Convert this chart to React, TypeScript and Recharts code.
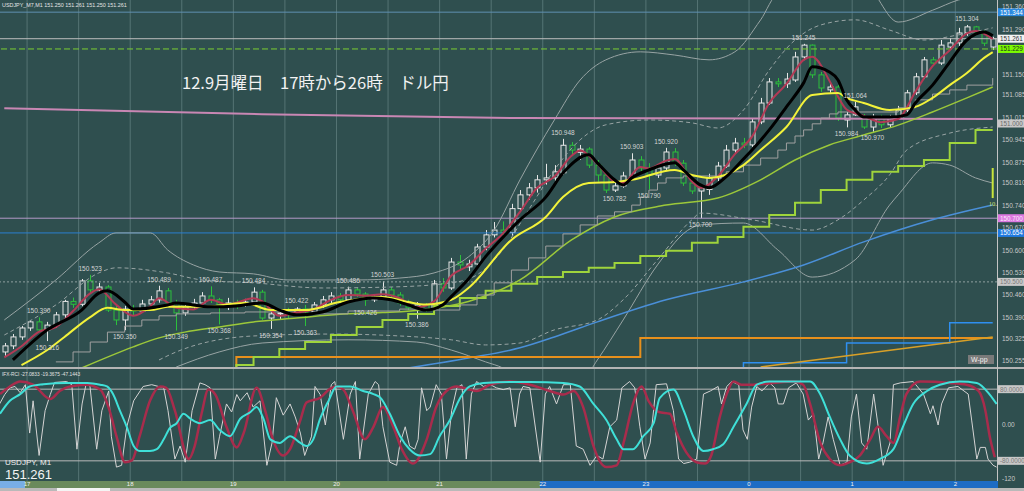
import React from 'react';
import { ComposedChart, Bar, Line, XAxis, YAxis, ReferenceLine, ReferenceDot } from 'recharts';

const BG = '#2f4f4f';
const GRID = '#557474';
const AXIS_TEXT = '#c8c8c8';
const BULL = '#e6e6e6';
const BEAR = '#2cc03c';
const FONT = '"Liberation Sans", Arial, sans-serif';

// 5 minute bars, 16:45 .. 02:20
const candleOpen = [
  150.282, 150.301, 150.329, 150.357, 150.376, 150.351, 150.366, 150.398, 150.440, 150.431,
  150.504, 150.476, 150.485, 150.413, 150.382, 150.416, 150.410, 150.432, 150.445, 150.473,
  150.435, 150.404, 150.423, 150.435, 150.457, 150.445, 150.429, 150.435, 150.429, 150.438,
  150.469, 150.388, 150.401, 150.404, 150.401, 150.416, 150.407, 150.429, 150.445, 150.457,
  150.445, 150.476, 150.463, 150.445, 150.454, 150.476, 150.460, 150.435, 150.420, 150.429,
  150.416, 150.495, 150.482, 150.563, 150.548, 150.557, 150.610, 150.648, 150.663, 150.655,
  150.730, 150.773, 150.795, 150.820, 150.826, 150.842, 150.928, 150.906, 150.916, 150.866,
  150.835, 150.788, 150.801, 150.832, 150.882, 150.857, 150.835, 150.857, 150.907, 150.872,
  150.810, 150.785, 150.790, 150.826, 150.863, 150.913, 150.935, 150.929, 151.001, 151.060,
  151.126, 151.120, 151.132, 151.204, 151.241, 151.148, 151.101, 151.110, 151.007, 151.023,
  151.017, 150.985, 151.013, 150.992, 151.017, 151.038, 151.092, 151.142, 151.195, 151.185,
  151.235, 151.248, 151.279, 151.298, 151.282, 151.235,
];
const candleHigh = [
  150.310, 150.338, 150.363, 150.382, 150.390, 150.376, 150.407, 150.445, 150.452, 150.510,
  150.523, 150.498, 150.491, 150.428, 150.426, 150.429, 150.445, 150.457, 150.489, 150.482,
  150.445, 150.435, 150.448, 150.469, 150.487, 150.451, 150.451, 150.445, 150.448, 150.484,
  150.476, 150.413, 150.413, 150.420, 150.422, 150.429, 150.438, 150.457, 150.469, 150.466,
  150.486, 150.482, 150.469, 150.463, 150.503, 150.485, 150.469, 150.445, 150.438, 150.435,
  150.507, 150.513, 150.576, 150.585, 150.570, 150.620, 150.663, 150.688, 150.690, 150.745,
  150.788, 150.810, 150.835, 150.870, 150.866, 150.948, 150.938, 150.929, 150.922, 150.882,
  150.844, 150.810, 150.845, 150.903, 150.894, 150.872, 150.869, 150.920, 150.919, 150.882,
  150.820, 150.804, 150.839, 150.876, 150.929, 150.951, 150.951, 151.013, 151.076, 151.138,
  151.138, 151.154, 151.220, 151.245, 151.243, 151.157, 151.123, 151.116, 151.032, 151.064,
  151.026, 151.026, 151.023, 151.023, 151.051, 151.101, 151.154, 151.204, 151.204, 151.257,
  151.263, 151.295, 151.304, 151.301, 151.288, 151.267,
];
const candleLow = [
  150.270, 150.291, 150.320, 150.348, 150.345, 150.316, 150.357, 150.388, 150.420, 150.425,
  150.463, 150.466, 150.407, 150.366, 150.350, 150.395, 150.404, 150.423, 150.436, 150.426,
  150.349, 150.395, 150.413, 150.426, 150.435, 150.368, 150.413, 150.416, 150.423, 150.432,
  150.382, 150.354, 150.382, 150.388, 150.395, 150.363, 150.401, 150.420, 150.432, 150.435,
  150.438, 150.454, 150.426, 150.438, 150.445, 150.451, 150.426, 150.413, 150.386, 150.407,
  150.410, 150.470, 150.476, 150.538, 150.535, 150.550, 150.600, 150.640, 150.645, 150.645,
  150.720, 150.757, 150.780, 150.805, 150.814, 150.835, 150.898, 150.882, 150.857, 150.814,
  150.779, 150.782, 150.795, 150.826, 150.845, 150.790, 150.826, 150.850, 150.863, 150.801,
  150.776, 150.700, 150.773, 150.816, 150.857, 150.904, 150.919, 150.923, 150.994, 151.054,
  151.110, 151.107, 151.126, 151.194, 151.138, 151.095, 151.092, 151.004, 150.984, 151.020,
  150.979, 150.970, 150.982, 150.985, 151.010, 151.032, 151.085, 151.135, 151.176, 151.179,
  151.226, 151.238, 151.270, 151.272, 151.238, 151.226,
];
const candleClose = [
  150.301, 150.329, 150.357, 150.376, 150.351, 150.366, 150.398, 150.440, 150.431, 150.504,
  150.476, 150.485, 150.413, 150.382, 150.416, 150.410, 150.432, 150.445, 150.473, 150.435,
  150.404, 150.423, 150.435, 150.457, 150.445, 150.429, 150.435, 150.429, 150.438, 150.469,
  150.388, 150.401, 150.404, 150.401, 150.416, 150.407, 150.429, 150.445, 150.457, 150.445,
  150.476, 150.463, 150.445, 150.454, 150.476, 150.460, 150.435, 150.420, 150.429, 150.416,
  150.495, 150.482, 150.563, 150.554, 150.557, 150.610, 150.648, 150.663, 150.655, 150.730,
  150.773, 150.795, 150.820, 150.826, 150.845, 150.928, 150.913, 150.916, 150.866, 150.835,
  150.788, 150.801, 150.832, 150.882, 150.857, 150.835, 150.857, 150.907, 150.872, 150.810,
  150.785, 150.795, 150.826, 150.863, 150.913, 150.935, 150.929, 151.001, 151.060, 151.126,
  151.120, 151.135, 151.204, 151.241, 151.148, 151.107, 151.110, 151.013, 151.023, 151.048,
  150.985, 151.017, 150.992, 151.013, 151.038, 151.092, 151.142, 151.195, 151.185, 151.241,
  151.248, 151.279, 151.298, 151.282, 151.247, 151.261,
];

// indicator lines: [bar index, price]
const blackPts = [[1,150.257],[5,150.351],[9,150.413],[11,150.466],[12,150.473],[14,150.438],[15,150.416],[19,150.429],[20,150.435],[24,150.423],[27,150.426],[30,150.435],[32,150.413],[34,150.398],[37,150.407],[40,150.438],[43,150.451],[45,150.445],[47,150.429],[49,150.413],[51,150.429],[52,150.455],[54,150.510],[56,150.580],[58,150.640],[60,150.695],[63,150.766],[65,150.841],[68,150.898],[69,150.873],[71,150.820],[72,150.804],[73,150.826],[75,150.851],[78,150.873],[79,150.851],[81,150.804],[82,150.795],[84,150.830],[86,150.885],[87,150.913],[89,150.976],[91,151.048],[93,151.123],[94,151.173],[96,151.157],[97,151.132],[98,151.070],[99,151.038],[100,151.016],[103,151.016],[105,151.023],[106,151.060],[108,151.116],[110,151.188],[112,151.257],[114,151.282],[115,151.270]];
const yellowPts = [[2,150.241],[5,150.288],[7,150.329],[10,150.391],[12,150.420],[14,150.413],[17,150.413],[19,150.423],[23,150.423],[28,150.435],[31,150.413],[35,150.413],[39,150.438],[44,150.454],[47,150.438],[49,150.430],[52,150.445],[54,150.482],[59,150.632],[63,150.704],[65,150.766],[68,150.810],[71,150.813],[73,150.820],[78,150.851],[80,150.835],[82,150.826],[86,150.866],[88,150.913],[91,150.985],[94,151.085],[97,151.091],[98,151.076],[100,151.060],[103,151.038],[106,151.048],[108,151.076],[110,151.116],[112,151.154],[114,151.201],[115,151.219]];
const redPts = [[0,150.265],[2,150.300],[4,150.345],[6,150.360],[8,150.410],[10,150.465],[11,150.478],[13,150.430],[15,150.395],[17,150.425],[18,150.450],[20,150.420],[22,150.415],[24,150.445],[26,150.430],[29,150.450],[30,150.440],[32,150.395],[34,150.405],[36,150.415],[38,150.445],[40,150.460],[42,150.458],[44,150.462],[46,150.450],[48,150.422],[50,150.440],[52,150.520],[54,150.552],[56,150.605],[58,150.652],[60,150.720],[62,150.795],[64,150.830],[66,150.895],[67,150.912],[69,150.870],[71,150.815],[72,150.810],[74,150.860],[75,150.855],[77,150.880],[78,150.885],[80,150.815],[81,150.795],[83,150.830],[85,150.900],[87,150.955],[89,151.060],[91,151.120],[93,151.195],[94,151.205],[96,151.130],[97,151.080],[98,151.040],[100,151.020],[102,151.000],[104,151.010],[106,151.095],[108,151.175],[110,151.225],[112,151.278],[113,151.285],[115,151.260]];
const grayStepPts = [[6,150.251],[8,150.282],[10,150.313],[12,150.344],[14,150.363],[16,150.382],[18,150.395],[20,150.401],[24,150.404],[28,150.407],[34,150.401],[40,150.410],[46,150.416],[50,150.413],[53,150.429],[55,150.460],[57,150.498],[59,150.538],[61,150.576],[63,150.613],[65,150.651],[67,150.679],[69,150.707],[71,150.720],[73,150.741],[74,150.766],[75,150.788],[76,150.810],[77,150.826],[79,150.832],[84,150.845],[86,150.866],[88,150.888],[90,150.913],[91,150.935],[92,150.957],[93,150.976],[94,150.995],[95,151.013],[96,151.026],[97,151.032],[104,151.045],[106,151.070],[108,151.088],[110,151.101],[112,151.116],[115,151.138]];
const greenStairPts = [[26,150.150],[27,150.241],[29,150.266],[32,150.291],[35,150.313],[38,150.335],[41,150.360],[44,150.382],[47,150.401],[50,150.426],[53,150.451],[56,150.473],[59,150.495],[62,150.516],[65,150.532],[68,150.545],[71,150.560],[74,150.582],[77,150.598],[80,150.623],[83,150.641],[86,150.673],[89,150.710],[92,150.748],[95,150.788],[98,150.820],[101,150.845],[104,150.863],[107,150.882],[110,150.935],[113,150.976],[115,150.976]];
const lowerGreenPts = [[9,150.232],[12,150.266],[15,150.298],[18,150.326],[21,150.344],[25,150.360],[29,150.376],[34,150.388],[39,150.400],[44,150.405],[49,150.415],[54,150.440],[60,150.507],[66,150.632],[71,150.704],[77,150.741],[83,150.763],[88,150.820],[92,150.882],[96,150.929],[100,150.960],[104,150.991],[108,151.032],[112,151.076],[115,151.110]];
const bbUpperPts = [[0,150.382],[6,150.507],[11,150.623],[13,150.654],[17,150.654],[19,150.601],[22,150.554],[25,150.532],[29,150.526],[33,150.507],[41,150.507],[46,150.513],[50,150.529],[54,150.579],[57,150.663],[60,150.820],[64,151.007],[67,151.132],[70,151.195],[74,151.220],[78,151.210],[82,151.195],[85,151.220],[88,151.320],[90,151.400],[100,151.430],[104,151.313],[108,151.350],[111,151.382],[115,151.400]];
const bbUpperInPts = [[0,150.335],[6,150.429],[11,150.529],[13,150.545],[19,150.529],[23,150.507],[29,150.498],[37,150.482],[45,150.485],[52,150.498],[55,150.523],[58,150.601],[61,150.726],[64,150.851],[67,150.945],[70,150.992],[75,151.007],[80,150.998],[83,150.982],[86,151.038],[89,151.163],[92,151.257],[95,151.304],[99,151.320],[103,151.288],[107,151.257],[111,151.273],[115,151.295]];
const bbLowerInPts = [[18,150.257],[20,150.282],[29,150.332],[38,150.338],[46,150.332],[52,150.320],[56,150.304],[60,150.310],[64,150.351],[69,150.382],[72,150.445],[76,150.570],[80,150.695],[81,150.716],[87,150.695],[94,150.663],[97,150.695],[100,150.757],[103,150.835],[105,150.913],[110,150.966],[115,150.985]];
const bbLowerPts = [[20,150.235],[25,150.282],[30,150.310],[40,150.320],[48,150.313],[52,150.288],[56,150.251],[58,150.232],[62,150.150],[66,150.150],[69,150.257],[72,150.382],[76,150.554],[80,150.670],[81,150.679],[86,150.685],[90,150.601],[94,150.516],[99,150.570],[103,150.741],[104,150.773],[108,150.873],[110,150.866],[113,150.826],[115,150.810]];
const bluePts = [[47,150.232],[54,150.263],[60,150.295],[64,150.329],[69,150.376],[77,150.445],[86,150.501],[93,150.554],[100,150.626],[108,150.695],[115,150.741]];
const orangeStepPts = [[26,150.150],[27,150.266],[74,150.326],[115,150.326]];
const blueStepPts = [[85,150.150],[86,150.248],[98,150.310],[110,150.373],[115,150.373]];
const orangeSlopePts = [[88,150.235],[115,150.329]];
const pinkPts = [[0,151.044],[30,151.025],[60,151.013],[115,151.010]];

const priceTicks = [151.36, 151.29, 151.15, 151.085, 151.015, 150.945, 150.875, 150.81, 150.74, 150.67, 150.6, 150.53, 150.46, 150.39, 150.325, 150.255];

// swing high / low labels: [text, bar, price, side]
const swingLabels: [string, number, number, string][] = [
  ['150.390', 4, 150.390, 'top'], ['150.316', 5, 150.316, 'bottom'], ['150.523', 10, 150.523, 'top'],
  ['150.350', 14, 150.350, 'bottom'], ['150.489', 18, 150.489, 'top'], ['150.349', 20, 150.349, 'bottom'],
  ['150.487', 24, 150.487, 'top'], ['150.368', 25, 150.368, 'bottom'], ['150.484', 29, 150.484, 'top'],
  ['150.354', 31, 150.354, 'bottom'], ['150.422', 34, 150.422, 'top'], ['150.363', 35, 150.363, 'bottom'],
  ['150.486', 40, 150.486, 'top'], ['150.426', 42, 150.426, 'bottom'], ['150.503', 44, 150.503, 'top'],
  ['150.386', 48, 150.386, 'bottom'], ['150.948', 65, 150.948, 'top'], ['150.782', 71, 150.782, 'bottom'],
  ['150.903', 73, 150.903, 'top'], ['150.790', 75, 150.790, 'bottom'], ['150.920', 77, 150.920, 'top'],
  ['150.700', 81, 150.700, 'bottom'], ['151.245', 93, 151.245, 'top'], ['150.984', 98, 150.984, 'bottom'],
  ['151.064', 99, 151.064, 'top'], ['150.970', 101, 150.970, 'bottom'], ['151.304', 112, 151.304, 'top'],
];

// horizontal levels with their price tags on the axis
const levels = [
  { price: 151.344, text: '151.344', line: '#5f8fb0', bg: '#2a8ae0', fg: '#ffffff', dash: undefined },
  { price: 151.261, text: '151.261', line: '#bdbdbd', bg: '#f2f2f2', fg: '#303030', dash: undefined },
  { price: 151.229, text: '151.229', line: '#7ccd32', bg: '#7cfc00', fg: '#203020', dash: '6 3' },
  { price: 150.996, text: '151.000', line: 'none', bg: '#c8c8c8', fg: '#6a6a6a', dash: undefined },
  { price: 150.700, text: '150.700', line: '#b49ac8', bg: '#dc78e0', fg: '#fbe8fb', dash: undefined },
  { price: 150.654, text: '150.654', line: '#2a7fd0', bg: '#1f7ae0', fg: '#ffffff', dash: undefined },
  { price: 150.501, text: '150.500', line: '#8fa0a0', bg: '#c8c8c8', fg: '#7a7a7a', dash: '2 2' },
];
const lastBar = { idx: 115, top: 150.857, bottom: 150.763, label: '10.' };

// half-hour separators and hour labels (bar units)
const gridSlots = [3, 9, 15, 21, 27, 33, 39, 45, 51, 57, 63, 69, 75, 81, 87, 93, 99, 105, 111];
const hourSlots = [3, 15, 27, 39, 51, 63, 75, 87, 99, 111];
const hourLabels = ['17', '18', '19', '20', '21', '22', '23', '0', '1', '2'];

// RCI: [bar position, value]
const rciFast = [[-0.2,47],[0.4,68],[1.0,83],[1.6,86],[2.2,72],[2.8,90],[3.3,-18],[3.7,54],[4.4,-68],[5.1,32],[5.7,68],[6.2,95],[7.6,97],[8.2,90],[8.8,-54],[9.4,47],[9.9,95],[10.3,90],[11.1,-54],[11.7,32],[12.5,76],[12.8,-25],[13.4,-94],[14.0,-90],[14.6,-4],[15.4,54],[16.5,86],[17.5,90],[18.9,83],[19.4,32],[20.2,-76],[20.8,-47],[21.4,-83],[22.2,32],[23.1,94],[23.7,90],[24.3,83],[24.9,-76],[25.4,-25],[26.2,47],[26.8,29],[27.4,68],[27.8,54],[28.6,72],[29.3,40],[30.1,54],[30.9,-90],[31.5,-40],[32.0,61],[32.8,22],[33.6,47],[34.2,18],[34.8,-18],[35.3,-68],[36.1,-25],[36.5,86],[37.1,68],[37.7,0],[38.4,90],[38.8,97],[39.8,-32],[40.6,69],[41.2,97],[41.7,-76],[42.7,69],[43.5,97],[43.9,90],[44.4,-4],[45.2,-83],[46.0,-90],[46.4,-40],[47.0,-4],[47.5,-47],[48.1,-54],[48.5,-32],[48.9,83],[49.5,32],[49.9,40],[50.6,90],[51.2,69],[51.8,-76],[52.4,32],[53.0,83],[53.6,90],[54.1,-76],[54.7,69],[55.3,97],[56.1,86],[56.9,90],[57.6,83],[58.4,79],[59.2,83],[59.8,-4],[60.3,69],[60.7,86],[61.5,83],[62.7,-83],[63.3,69],[63.8,86],[64.6,47],[65.4,90],[66.2,90],[66.9,-47],[67.7,-54],[68.5,-90],[69.3,-68],[70.0,-76],[70.8,-4],[71.6,11],[72.2,83],[73.1,97],[73.7,83],[74.3,-4],[74.9,-76],[75.5,-40],[76.2,90],[77.4,92],[78.2,32],[78.8,-76],[79.4,-86],[80.1,-83],[80.9,-76],[81.7,69],[82.5,76],[83.4,86],[83.8,47],[84.4,86],[85.0,97],[85.8,90],[86.3,-11],[86.8,-32],[87.3,40],[87.9,86],[88.5,76],[89.4,94],[90.0,83],[90.4,47],[91.0,47],[91.6,83],[92.5,94],[93.3,69],[93.9,11],[94.5,25],[95.1,-76],[95.6,-40],[96.2,18],[96.8,-32],[97.6,-90],[98.4,-83],[98.9,18],[99.5,69],[100.1,-40],[100.7,-54],[101.5,69],[102.0,0],[102.6,-90],[103.4,-40],[103.8,90],[104.6,94],[106.1,97],[107.3,69],[108.1,25],[108.4,43],[109.0,0],[109.4,47],[110.2,83],[111.3,86],[112.5,69],[112.9,11],[113.5,-76],[113.9,-50],[114.5,-50],[114.8,-76],[115.4,-90],[115.8,-94]];
const rciMid = [[-0.15,69],[1.0,86],[2.2,97],[3.7,90],[5.7,58],[6.8,76],[8.0,86],[9.9,90],[11.5,79],[12.6,32],[13.4,-25],[14.4,-83],[15.2,-79],[16.1,-25],[17.3,54],[18.5,86],[19.2,83],[20.2,32],[21.8,-76],[22.5,-47],[23.3,25],[24.1,79],[24.9,68],[26.2,-4],[27.4,-50],[28.2,-18],[29.7,83],[30.7,32],[31.6,-32],[32.8,-68],[33.6,-54],[34.8,11],[35.5,50],[37.1,61],[38.2,80],[39.0,86],[39.8,79],[40.9,32],[42.3,-32],[43.3,-4],[44.4,40],[45.6,-4],[46.6,-54],[47.9,-86],[49.5,-32],[50.6,40],[51.8,76],[53.0,86],[54.5,79],[55.3,76],[56.9,90],[59.2,97],[61.5,90],[63.8,76],[65.4,68],[66.6,76],[67.7,40],[68.9,-47],[69.7,-83],[70.4,-94],[71.6,-90],[72.4,-40],[73.5,47],[74.5,86],[75.3,54],[76.5,29],[77.8,25],[78.6,-18],[79.7,-61],[80.9,-83],[81.9,-86],[82.6,-68],[83.6,18],[84.4,69],[85.2,97],[86.1,90],[87.5,90],[89.8,94],[92.2,97],[93.3,90],[94.1,47],[95.3,-40],[96.4,-76],[97.6,-90],[98.7,-83],[99.9,-68],[101.1,-32],[102.0,-4],[103.0,-25],[103.8,-40],[104.6,20],[105.3,69],[106.9,97],[110.4,94],[112.3,90],[113.7,76],[114.5,32],[115.0,-25],[115.6,-72]];
const rciSlow = [[-0.15,25],[1.0,54],[2.2,69],[3.3,86],[4.9,91],[7.6,94],[10.0,94],[11.5,90],[12.3,86],[13.0,69],[13.8,32],[14.6,-4],[15.4,-47],[16.1,-58],[17.3,-58],[18.1,-54],[18.9,-32],[19.6,-7],[20.4,4],[21.2,25],[22.0,14],[23.1,4],[24.3,11],[25.4,-11],[26.6,-25],[27.8,14],[29.0,29],[29.7,40],[30.5,14],[31.3,-32],[32.4,-40],[33.6,-25],[34.8,-40],[35.5,-47],[36.3,-32],[37.1,14],[38.1,55],[39.0,86],[40.6,86],[42.1,76],[43.3,69],[44.1,61],[45.2,25],[46.4,-25],[47.5,-54],[48.7,-68],[49.9,-65],[51.0,-25],[52.2,11],[53.4,61],[54.5,86],[56.1,94],[59.2,96],[61.5,96],[65.4,94],[67.3,86],[68.9,47],[70.4,11],[71.6,-32],[72.4,-54],[73.5,-54],[74.7,-25],[75.9,4],[76.6,60],[78.2,79],[79.4,32],[80.5,-25],[81.7,-58],[82.8,-54],[84.0,-43],[85.2,-4],[86.7,47],[87.9,90],[89.4,97],[92.2,97],[94.1,97],[95.3,68],[96.4,18],[97.6,-32],[98.7,-68],[100.7,-86],[102.2,-76],[103.8,-54],[104.9,-4],[106.1,47],[107.7,76],[109.2,90],[111.5,97],[113.5,94],[115.0,68],[115.8,47]];

const lineSpecs: [string, number[][], string, number, string, string | undefined][] = [
  ['bbUpper', bbUpperPts, '#98a4a4', 1, 'monotone', undefined],
  ['bbUpperIn', bbUpperInPts, '#98a4a4', 1, 'monotone', '4 3'],
  ['bbLowerIn', bbLowerInPts, '#98a4a4', 1, 'monotone', '4 3'],
  ['bbLower', bbLowerPts, '#98a4a4', 1, 'monotone', undefined],
  ['pink', pinkPts, '#c987b4', 2, 'linear', undefined],
  ['blue', bluePts, '#4a8fd8', 1.5, 'monotone', undefined],
  ['orangeStep', orangeStepPts, '#e8901c', 2, 'stepAfter', undefined],
  ['blueStep', blueStepPts, '#2f8ff0', 1.5, 'stepAfter', undefined],
  ['orangeSlope', orangeSlopePts, '#d8a028', 1.5, 'linear', undefined],
  ['greenStair', greenStairPts, '#9fd43c', 2, 'stepAfter', undefined],
  ['lowerGreen', lowerGreenPts, '#9cc83a', 1.5, 'monotone', undefined],
  ['grayStep', grayStepPts, '#a0a0a0', 1, 'stepAfter', undefined],
  ['red', redPts, '#b23a55', 2, 'monotone', undefined],
  ['yellow', yellowPts, '#f2f23a', 2, 'monotone', undefined],
  ['black', blackPts, '#000000', 3, 'monotone', undefined],
];

const rows = candleOpen.map((o, i) => {
  const r: any = { idx: i, o, h: candleHigh[i], l: candleLow[i], c: candleClose[i] };
  lineSpecs.forEach(([key, pts]) => {
    const hit = pts.find((p) => p[0] === i);
    r[key] = hit ? hit[1] : null;
  });
  return r;
});

const rciRows = (() => {
  const m = new Map<number, any>();
  const put = (list: number[][], key: string) =>
    list.forEach(([t, v]) => {
      const r = m.get(t) ?? { t };
      r[key] = v;
      m.set(t, r);
    });
  put(rciFast, 'fast');
  put(rciMid, 'mid');
  put(rciSlow, 'slow');
  return [...m.values()].sort((a, b) => a.t - b.t);
})();

const Candle = (props: any) => {
  const { x, y, width, height, payload } = props;
  if (!payload || !isFinite(y) || !isFinite(height)) return null;
  const { o, h, l, c } = payload;
  const k = h === l ? 0 : height / (h - l);
  const yo = y + (h - o) * k;
  const yc = y + (h - c) * k;
  const col = c >= o ? BULL : BEAR;
  const cx = Math.round(x + width / 2) + 0.5;
  return (
    <g>
      <line x1={cx} x2={cx} y1={y} y2={y + height} stroke={col} strokeWidth={1} />
      <rect x={cx - 2.5} y={Math.min(yo, yc)} width={5} height={Math.max(Math.abs(yo - yc), 1)} fill={BG} stroke={col} strokeWidth={1} />
    </g>
  );
};

function PriceTag(props: any) {
  const { viewBox, text, bg, fg } = props;
  if (!viewBox) return null;
  const x = viewBox.x + viewBox.width + 1;
  const y = viewBox.y;
  return (
    <g>
      <rect x={x} y={y - 4} width={26} height={8} fill={bg} />
      <text x={x + 2} y={y + 2.5} fontSize={6.3} fill={fg} fontFamily={FONT}>{text}</text>
    </g>
  );
}

const tickStyle = { fontSize: 6.5, fill: AXIS_TEXT, fontFamily: FONT };

export default function App() {
  return (
    <div style={{ position: 'absolute', left: 0, top: 0, width: 1024, height: 491, background: BG, overflow: 'hidden' }}>
      {/* time strip */}
      <div style={{ position: 'absolute', left: 0, top: 481, width: 540, height: 7, background: '#6a8a5c' }} />
      <div style={{ position: 'absolute', left: 540, top: 481, width: 458, height: 7, background: '#1d6cc4' }} />
      <div style={{ position: 'absolute', left: 0, top: 481, width: 25, height: 7, background: '#78aee6' }} />
      <div style={{ position: 'absolute', left: 0, top: 488, width: 1024, height: 3, background: '#b9b9b9' }} />
      <div style={{ position: 'absolute', left: 57, top: 488, width: 53, height: 3, background: '#f4f4f4' }} />

      {/* price panel */}
      <div style={{ position: 'absolute', left: 0, top: 0 }}>
        <ComposedChart width={1024} height={367} data={rows} margin={{ top: 0, right: 0, bottom: 0, left: 0 }}>
          <XAxis dataKey="idx" type="category" hide />
          <XAxis xAxisId="t" dataKey="idx" type="number" domain={[-0.15, 115.85]} allowDataOverflow hide />
          <YAxis orientation="right" width={27} domain={[150.235, 151.382]} allowDataOverflow ticks={priceTicks}
            tickFormatter={(v: number) => v.toFixed(3)} tick={tickStyle} axisLine={false} tickLine={false} tickSize={3} tickMargin={2} />
          {gridSlots.map((t) => (
            <ReferenceLine key={`g${t}`} xAxisId="t" x={t} stroke={GRID} strokeWidth={1} />
          ))}
          {levels.map((lv) => (
            <ReferenceLine key={lv.text} y={lv.price} stroke={lv.line} strokeWidth={1} strokeDasharray={lv.dash}
              label={<PriceTag text={lv.text} bg={lv.bg} fg={lv.fg} />} />
          ))}
          <Bar dataKey={(d: any) => [d.l, d.h]} barSize={5} isAnimationActive={false}
            shape={(p: any) => <Candle {...p} />} />
          {lineSpecs.map(([key, , color, w, type, dash]) => (
            <Line key={key} dataKey={key} type={type as any} stroke={color} strokeWidth={w} strokeDasharray={dash}
              dot={false} activeDot={false} connectNulls isAnimationActive={false} />
          ))}
          <ReferenceLine segment={[{ x: lastBar.idx, y: lastBar.top }, { x: lastBar.idx, y: lastBar.bottom }]}
            stroke="#c8e43c" strokeWidth={2} />
          <ReferenceDot x={lastBar.idx} y={lastBar.bottom} r={0} fill="none" stroke="none"
            label={{ value: lastBar.label, position: 'bottom', fill: '#d8e070', fontSize: 6.5, offset: 3 }} />
          {swingLabels.map(([txt, i, p, side]) => (
            <ReferenceDot key={`${txt}-${i}`} x={i} y={p} r={0} fill="none" stroke="none"
              label={{ value: txt, position: side as any, fill: '#d4d4d4', fontSize: 6.5, offset: 4, fontFamily: FONT }} />
          ))}
        </ComposedChart>
      </div>

      <div style={{ position: 'absolute', left: 0, top: 367, width: 1024, height: 2, background: '#b4b4b4' }} />

      {/* RCI panel */}
      <div style={{ position: 'absolute', left: 0, top: 369 }}>
        <ComposedChart width={1024} height={122} data={rciRows} margin={{ top: 0, right: 0, bottom: 0, left: 0 }}>
          <XAxis dataKey="t" type="number" domain={[-0.15, 115.85]} allowDataOverflow ticks={hourSlots}
            tickFormatter={(t: number) => hourLabels[hourSlots.indexOf(t)] ?? ''} height={10}
            tick={{ fontSize: 6, fill: '#f0f0f0', fontFamily: FONT }} axisLine={false} tickLine={false} tickSize={0} tickMargin={1} />
          <YAxis orientation="right" width={27} domain={[-125, 125]} allowDataOverflow ticks={[120, 0, -120]}
            tickFormatter={(v: number) => (v === 0 ? '0.00' : String(v))} tick={tickStyle}
            axisLine={false} tickLine={false} tickSize={3} tickMargin={2} />
          {gridSlots.map((t) => (
            <ReferenceLine key={`rg${t}`} x={t} stroke={GRID} strokeWidth={1} />
          ))}
          <ReferenceLine y={80} stroke="#b8b8b8" strokeWidth={1} label={<PriceTag text="80.0000" bg="#c8c8c8" fg="#7a7a7a" />} />
          <ReferenceLine y={-80} stroke="#b8b8b8" strokeWidth={1} label={<PriceTag text="-80.0000" bg="#c8c8c8" fg="#7a7a7a" />} />
          <Line dataKey="fast" type="linear" stroke="#d4d4d4" strokeWidth={1} dot={false} activeDot={false} connectNulls isAnimationActive={false} />
          <Line dataKey="mid" type="monotone" stroke="#a82c4c" strokeWidth={2.5} dot={false} activeDot={false} connectNulls isAnimationActive={false} />
          <Line dataKey="slow" type="monotone" stroke="#3fe0d8" strokeWidth={2} dot={false} activeDot={false} connectNulls isAnimationActive={false} />
        </ComposedChart>
      </div>

      <div style={{ position: 'absolute', left: 997, top: 0, width: 1, height: 481, background: '#c4c4c4' }} />

      {/* captions */}
      <svg width={1024} height={491} style={{ position: 'absolute', left: 0, top: 0, pointerEvents: 'none' }}>
        <text x={2} y={7} fontSize={5.4} fill="#e4e4e4" fontFamily={FONT}>USDJPY_M7,M1  151.250 151.261 151.250 151.261</text>
        <text x={182} y={89} fontSize={16.5} fill="#f2f2f2" fontFamily='"Noto Sans CJK JP", sans-serif'>12.9月曜日　17時から26時　ドル円</text>
        <text x={2} y={376} fontSize={4.8} fill="#e4e4e4" fontFamily={FONT}>IFX-RCI -27.0833 -19.3675 -47.1443</text>
        <text x={5} y={465} fontSize={8} fill="#f0f0f0" fontFamily={FONT}>USDJPY, M1</text>
        <text x={5} y={479} fontSize={13} fill="#f4f4f4" fontFamily={FONT}>151.261</text>
        <rect x={968} y={355} width={26} height={9} fill="#7a7a7a" />
        <text x={971} y={362} fontSize={7} fill="#f0f0f0" fontFamily={FONT}>W-pp</text>
      </svg>
    </div>
  );
}
